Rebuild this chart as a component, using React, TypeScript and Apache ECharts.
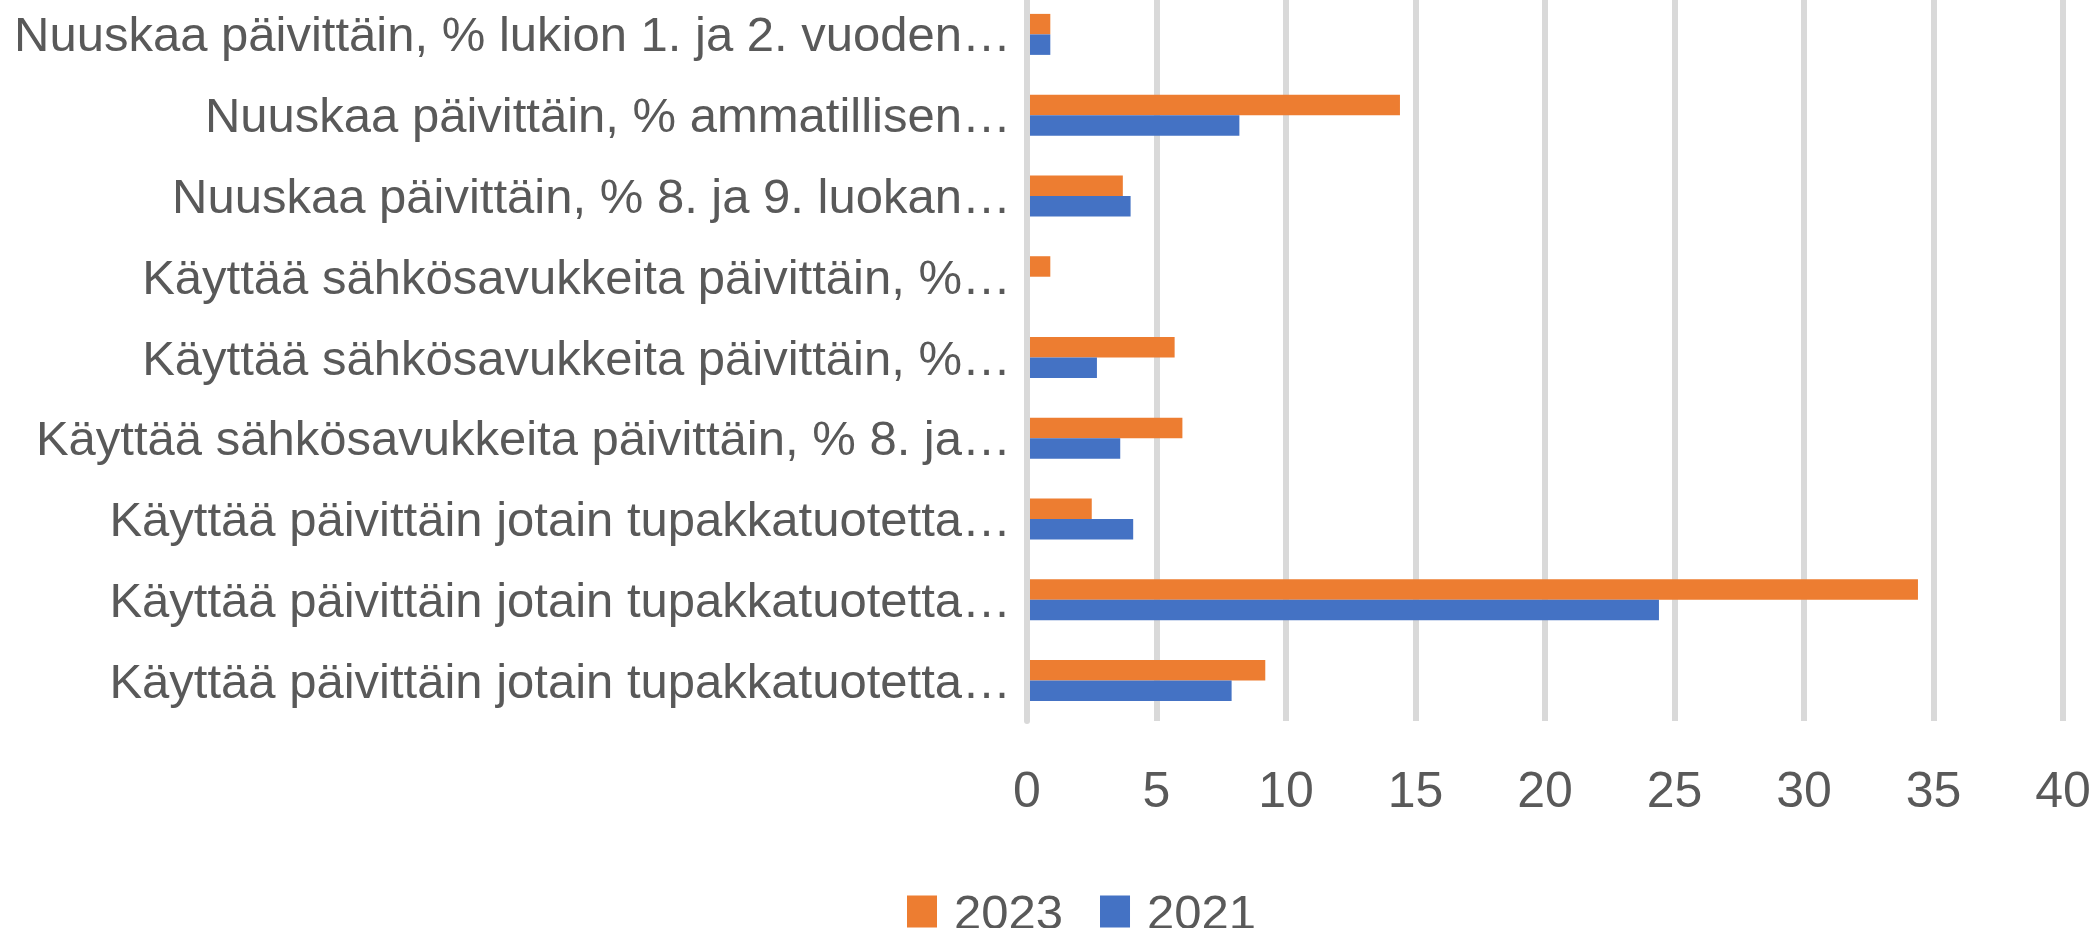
import React, { useEffect, useRef } from "react";
import * as echarts from "echarts";

const categories = [
  "Nuuskaa päivittäin, % lukion 1. ja 2. vuoden…",
  "Nuuskaa päivittäin, % ammatillisen…",
  "Nuuskaa päivittäin, % 8. ja 9. luokan…",
  "Käyttää sähkösavukkeita päivittäin, %…",
  "Käyttää sähkösavukkeita päivittäin, %…",
  "Käyttää sähkösavukkeita päivittäin, % 8. ja…",
  "Käyttää päivittäin jotain tupakkatuotetta…",
  "Käyttää päivittäin jotain tupakkatuotetta…",
  "Käyttää päivittäin jotain tupakkatuotetta…",
];

const values2023 = [0.9, 14.4, 3.7, 0.9, 5.7, 6.0, 2.5, 34.4, 9.2];
const values2021 = [0.9, 8.2, 4.0, null, 2.7, 3.6, 4.1, 24.4, 7.9];

const seriesNames = ["2023", "2021"];
const xTicks = { min: 0, max: 40, interval: 5 };

const FONT = "'Liberation Sans', Arial, sans-serif";
const TEXT = "#595959";

export default function App() {
  const ref = useRef<HTMLDivElement>(null);
  useEffect(() => {
    if (!ref.current) return;
    const chart = echarts.init(ref.current, undefined, { renderer: "svg" });
    chart.setOption({
      animation: false,
      backgroundColor: "#ffffff",
      textStyle: { fontFamily: FONT },
      grid: {
        left: 1027,
        right: 37,
        top: -6,
        bottom: 207,
        containLabel: false,
        outerBoundsMode: "none",
      },
      legend: {
        data: seriesNames,
        left: 902,
        top: 882,
        icon: "rect",
        itemWidth: 30,
        itemHeight: 32,
        itemGap: 37,
        textStyle: { color: TEXT, fontSize: 49, lineHeight: 34, fontFamily: FONT, padding: [0, 0, 0, 12] },
      },
      xAxis: {
        type: "value",
        min: xTicks.min,
        max: xTicks.max,
        interval: xTicks.interval,
        axisLine: { show: false },
        axisTick: { show: false },
        axisLabel: { color: TEXT, fontSize: 50, fontFamily: FONT, margin: 44 },
        splitLine: { show: true, lineStyle: { color: "#d9d9d9", width: 6 } },
      },
      yAxis: {
        type: "category",
        data: categories,
        inverse: true,
        z: 3,
        axisLine: { show: true, lineStyle: { color: "#d9d9d9", width: 6 } },
        axisTick: { show: false },
        axisLabel: { color: TEXT, fontSize: 49, fontFamily: FONT, margin: 16 },
        splitLine: { show: false },
      },
      series: [
        {
          name: seriesNames[0],
          type: "bar",
          data: values2023,
          barWidth: 20.5,
          barGap: "0%",
          itemStyle: { color: "#ed7d31" },
        },
        {
          name: seriesNames[1],
          type: "bar",
          data: values2021,
          barWidth: 20.5,
          barGap: "0%",
          itemStyle: { color: "#4472c4" },
        },
      ],
    });
    return () => chart.dispose();
  }, []);
  return <div ref={ref} style={{ width: 2100, height: 928, position: "absolute", left: 0, top: 0 }} />;
}
